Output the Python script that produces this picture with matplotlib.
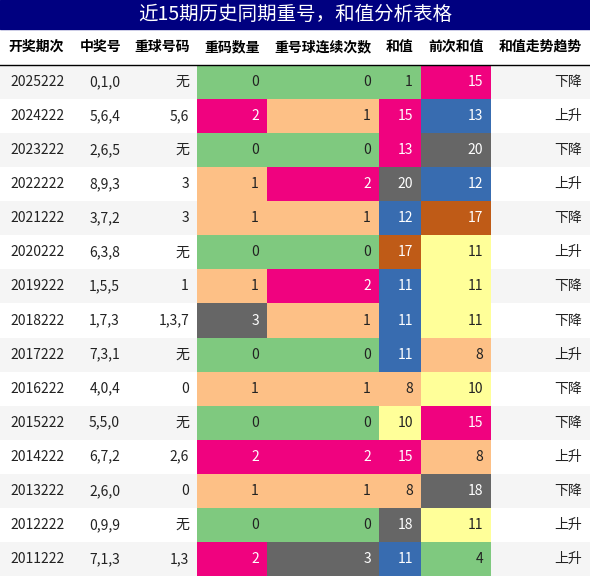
import matplotlib
matplotlib.use("Agg")
import matplotlib.pyplot as plt
from matplotlib.patches import Rectangle

plt.rcParams['font.family'] = ['Noto Sans CJK SC', 'DejaVu Sans']

title = "近15期历史同期重号，和值分析表格"
headers = ["开奖期次", "中奖号", "重球号码", "重码数量", "重号球连续次数", "和值", "前次和值", "和值走势趋势"]
periods = ["2025222","2024222","2023222","2022222","2021222","2020222","2019222","2018222","2017222","2016222","2015222","2014222","2013222","2012222","2011222"]
numbers = ["0,1,0","5,6,4","2,6,5","8,9,3","3,7,2","6,3,8","1,5,5","1,7,3","7,3,1","4,0,4","5,5,0","6,7,2","2,6,0","0,9,9","7,1,3"]
repeat_balls = ["无","5,6","无","3","3","无","1","1,3,7","无","0","无","2,6","0","无","1,3"]
repeat_count = [0,2,0,1,1,0,1,3,0,1,0,2,1,0,2]
repeat_streak = [0,1,0,2,1,0,2,1,0,1,0,2,1,0,3]
sums = [1,15,13,20,12,17,11,11,11,8,10,15,8,18,11]
prev_sums = [15,13,20,12,17,11,11,11,8,10,15,8,18,11,4]
trend = ["下降","上升","下降","上升","下降","上升","下降","下降","上升","下降","下降","上升","下降","上升","上升"]

G, P, O, K, B, Y, R = "#7fc97f", "#f0027f", "#fdc086", "#666666", "#386cb0", "#ffff99", "#bf5b17"
count_colors = {0: G, 1: O, 2: P, 3: K}
streak_colors = [G, O, G, P, O, G, P, O, G, O, G, P, O, G, K]
sum_colors = [G, P, P, K, B, R, B, B, B, O, Y, P, O, K, B]
prev_colors = [P, B, K, B, R, Y, Y, Y, O, Y, P, O, K, Y, G]
dark = {P, K, B, R}

W, H = 590, 576
fig = plt.figure(figsize=(W/100, H/100), dpi=100)
ax = fig.add_axes([0, 0, 1, 1])
ax.set_xlim(0, W); ax.set_ylim(H, 0); ax.axis('off')

cols = [0, 73, 128, 197, 267, 379, 421, 491, 590]
top_h, head_h = 29, 36
row_h = (H - top_h - head_h) / 15

ax.add_patch(Rectangle((0, 0), W, top_h, color="#000080"))
ax.text(W/2, top_h/2, title, color="white", fontsize=14, ha="center", va="center")
y0 = top_h
for j, h in enumerate(headers):
    ax.text((cols[j]+cols[j+1])/2, y0 + head_h/2, h, fontsize=10, fontweight="bold", ha="center", va="center")
ax.plot([0, W], [y0+head_h, y0+head_h], color="black", lw=1)

for i in range(15):
    y = y0 + head_h + i*row_h
    bg = "#f5f5f5" if i % 2 == 0 else "white"
    ax.add_patch(Rectangle((0, y), W, row_h, color=bg, lw=0))
    vals = [periods[i], numbers[i], repeat_balls[i], str(repeat_count[i]), str(repeat_streak[i]),
            str(sums[i]), str(prev_sums[i]), trend[i]]
    colors = [None, None, None, count_colors[repeat_count[i]], streak_colors[i], sum_colors[i], prev_colors[i], None]
    for j, v in enumerate(vals):
        c = colors[j]
        if c:
            ax.add_patch(Rectangle((cols[j], y), cols[j+1]-cols[j], row_h, color=c, lw=0))
        tc = "white" if c in dark else "#222222"
        ax.text(cols[j+1]-8, y + row_h/2, v, fontsize=10, ha="right", va="center", color=tc)

fig.savefig("out.png", dpi=100)
